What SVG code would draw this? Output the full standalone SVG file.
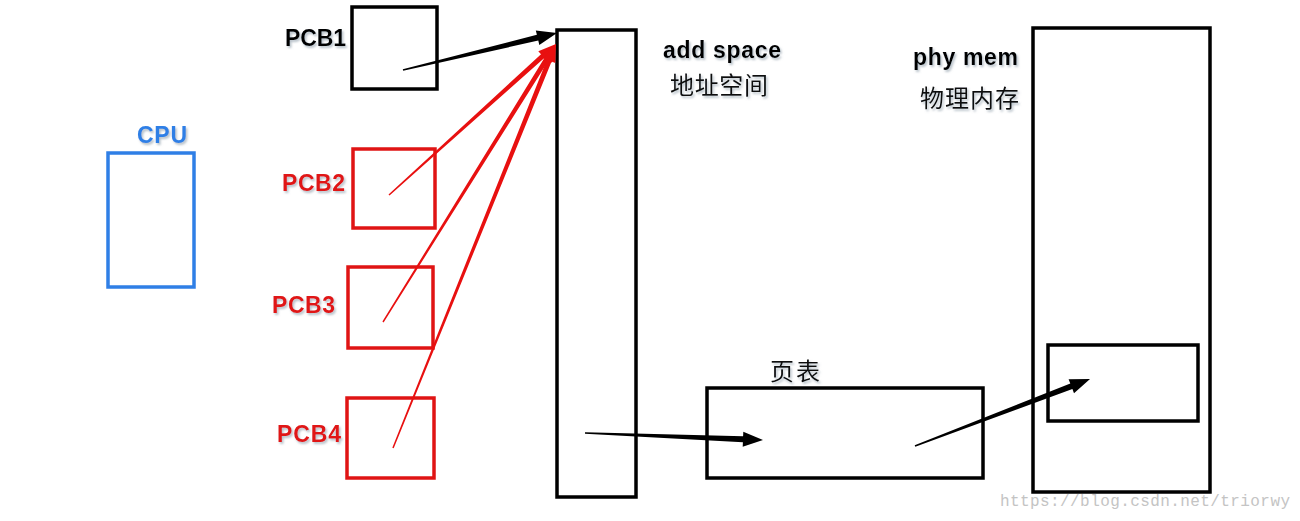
<svg xmlns="http://www.w3.org/2000/svg" width="1300" height="521" viewBox="0 0 1300 521">
<defs>
<filter id="sh" x="-10%" y="-30%" width="130%" height="170%">
<feDropShadow dx="1.5" dy="2" stdDeviation="1.2" flood-color="#7a8a9a" flood-opacity="0.55"/>
</filter>
</defs>
<style>
.box{fill:none;stroke-width:3.5}
.blk{stroke:#000}
.red{stroke:#e01414}
.blu{stroke:#2f7fe6}
.lbl{font-family:"Liberation Sans",Arial,sans-serif;font-weight:bold;font-size:23px;filter:url(#sh)}
.cjk{font-family:"Noto Sans CJK SC","Liberation Serif",serif;font-size:24px;fill:#111;filter:url(#sh)}
.arB{fill:#000}
.arR{fill:#e81010}
.wm{font-family:"Liberation Mono",monospace;font-size:16px;fill:#c4c4c4}
</style>
<rect width="1300" height="521" fill="#fff"/>
<g id="cpu">
<rect class="box blu" x="108" y="153" width="86" height="134"/>
<text class="lbl" x="137" y="143" fill="#2f7fe6" textLength="50">CPU</text>
</g>
<g id="pcb1">
<rect class="box blk" x="352" y="7" width="85" height="82"/>
<text class="lbl" x="285" y="46" fill="#000" textLength="61">PCB1</text>
</g>
<g id="pcb2">
<rect class="box red" x="353" y="149" width="82" height="79"/>
<text class="lbl" x="282" y="191" fill="#e01414" textLength="63">PCB2</text>
</g>
<g id="pcb3">
<rect class="box red" x="348" y="267" width="85" height="81"/>
<text class="lbl" x="272" y="313" fill="#e01414" textLength="63">PCB3</text>
</g>
<g id="pcb4">
<rect class="box red" x="347" y="398" width="87" height="80"/>
<text class="lbl" x="277" y="442" fill="#e01414" textLength="64">PCB4</text>
</g>
<g id="addrspace">
<rect class="box blk" x="557" y="30" width="79" height="467"/>
<text class="lbl" x="663" y="58" fill="#000" textLength="118">add space</text>
<text class="cjk" x="670" y="94" textLength="98">地址空间</text>
</g>
<g id="pagetable">
<rect class="box blk" x="707" y="388" width="276" height="90"/>
<text class="cjk" x="770" y="380" textLength="50">页表</text>
</g>
<g id="phymem">
<rect class="box blk" x="1033" y="28" width="177" height="464"/>
<text class="lbl" x="913" y="65" fill="#000" textLength="105">phy mem</text>
<text class="cjk" x="920" y="107" textLength="99">物理内存</text>
</g>
<g id="page">
<rect class="box blk" x="1048" y="345" width="150" height="76"/>
</g>
<g id="connectors">
<polygon class="arB" points="403.2,70.7 538.3,40.6 539.3,45.0 557,33 535.8,30.4 536.9,34.8 402.8,69.3"/>
<polygon class="arR" points="389.5,195.6 544.3,57.9 547.0,60.9 556,44 538.3,51.3 541.0,54.2 388.5,194.4"/>
<polygon class="arR" points="383.6,322.4 548.6,60.6 552.0,62.7 556,44 541.0,55.9 544.4,58.0 382.4,321.6"/>
<polygon class="arR" points="393.7,448.3 551.6,61.6 555.3,63.1 556,44 543.2,58.3 546.9,59.8 392.3,447.7"/>
<polygon class="arB" points="585.0,433.7 742.9,442.2 742.7,446.7 763,440 743.3,431.7 743.1,436.2 585.0,432.3"/>
<polygon class="arB" points="915.3,446.7 1072.4,389.0 1074.0,393.2 1090,379 1068.6,379.2 1070.3,383.4 914.7,445.3"/>
</g>
<text class="wm" x="1000" y="506" textLength="290">https://blog.csdn.net/triorwy</text>
</svg>
